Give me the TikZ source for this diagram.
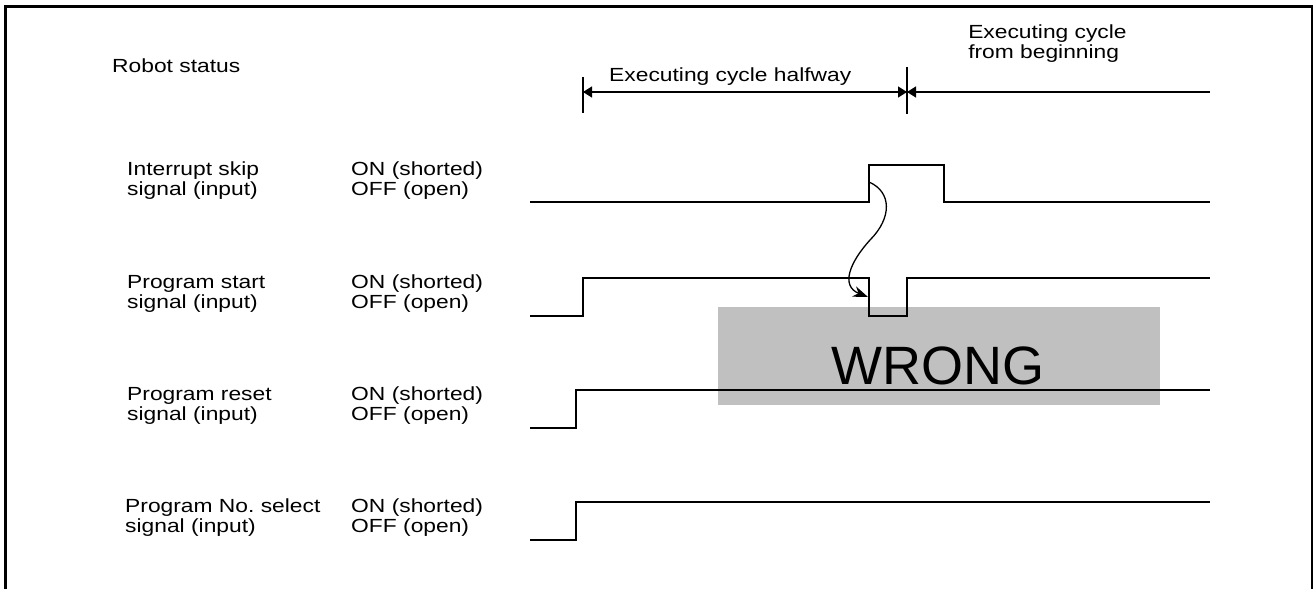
\documentclass[tikz,border=0pt]{standalone}
\usepackage{fontspec}
\setmainfont{Liberation Sans}
\usetikzlibrary{arrows.meta}
\definecolor{wronggray}{RGB}{192,192,192}
\newcommand{\lblfont}{\fontsize{19}{20}\selectfont}
\newcommand{\bigfont}{\fontsize{54}{60}\selectfont}
\tikzset{
  frame/.style={draw=black,line width=3pt},
  sig/.style={draw=black,line width=1.5pt,line join=miter},
  dimline/.style={draw=black,line width=1.3pt},
  dimtip/.tip={Triangle[length=9pt,width=11pt]},
  lbl/.style={font=\lblfont,align=left,anchor=north west,inner sep=0pt,
              xscale=1.2},
  wrongbox/.style={fill=wronggray,draw=none,inner sep=0pt,
              minimum width=442pt,minimum height=98pt},
  cause/.style={-{Stealth[length=15pt,width=11pt]},draw=black,line width=1.3pt},
}

\begin{document}
\begin{tikzpicture}[x=1pt,y=-1pt]
  \useasboundingbox (0,0) rectangle (1316,589);
  % frame
  \draw[frame] (5.5,589) -- (5.5,6.5) -- (1313,6.5);
  \draw[frame,line width=2pt] (1312,6.5) -- (1312,589);

  % WRONG area
  \node[wrongbox] (wrong) at (939,356) {};
  \node[font=\bigfont,anchor=base,inner sep=0pt] (wronglbl) at (938,384) {WRONG};

  % robot status
  \node[lbl] (status) at (112,59) {Robot status};
  \node[lbl] (halfway) at (609,68) {Executing cycle halfway};
  \node[lbl] (frombegin) at (968,25) {Executing cycle\\from beginning};
  \coordinate (tickAt) at (583,77);
  \coordinate (tickAb) at (583,113);
  \coordinate (tickBt) at (907,67);
  \coordinate (tickBb) at (907,114);
  \coordinate (halfL) at (583,92);
  \coordinate (halfR) at (907,92);
  \coordinate (dimend) at (1210,92);
  \draw[dimline] (tickAt) -- (tickAb);
  \draw[dimline] (tickBt) -- (tickBb);
  \draw[dimline,dimtip-dimtip] (halfL) -- (halfR);
  \draw[dimline,-dimtip] (dimend) -- (halfR);

  % signal labels
  \foreach \nm/\hy/\lx/\txt in {skip/165/127/Interrupt skip,
      start/278/127/Program start,reset/390/127/Program reset,
      select/502/125/Program No.\ select}{
    \node[lbl] (\nm lbl) at (\lx,\hy-3) {\txt\\signal (input)};
    \node[lbl] (\nm st) at (351,\hy-3) {ON (shorted)\\OFF (open)};}

  % signals
  \draw[sig] (530,202) -- (869,202) -- (869,165) -- (944,165) -- (944,202)
    -- (1210,202);
  \draw[sig] (530,316) -- (583,316) -- (583,278) -- (869,278) -- (869,316)
    -- (907,316) -- (907,278) -- (1210,278);
  \draw[sig] (530,428) -- (576,428) -- (576,390) -- (1210,390);
  \draw[sig] (530,540) -- (576,540) -- (576,502) -- (1210,502);

  % skip -> start
  \coordinate (skipon) at (869,182);
  \coordinate (startoff) at (868,297);
  \draw[cause] (skipon) .. controls (892,192) and (892,218) .. (870,240)
    .. controls (850,262) and (840,286) .. (startoff);
\end{tikzpicture}
\end{document}
